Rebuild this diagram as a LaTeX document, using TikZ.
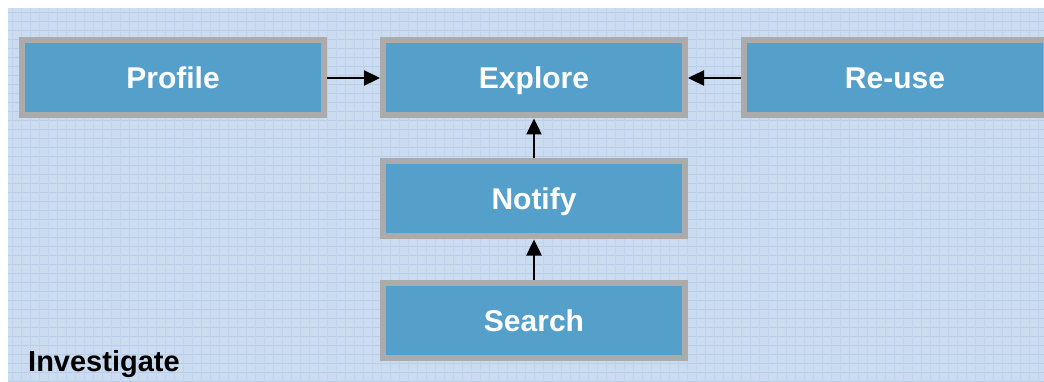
\documentclass[tikz,border=0pt]{standalone}
\usepackage{fontspec}
\setmainfont{Liberation Sans}
\usetikzlibrary{arrows.meta}
\definecolor{bgblue}{HTML}{CCDCF0}
\definecolor{gridblue}{HTML}{B8CDEA}
\definecolor{boxblue}{HTML}{559FCB}
\definecolor{boxgray}{HTML}{ABABAB}
\tikzset{
  stepbox/.style={draw=boxgray, line width=6pt, fill=boxblue, minimum width=302pt, minimum height=75pt,
    inner sep=0pt, text height=24pt, text depth=2pt, text=white, font=\fontsize{30}{36}\selectfont\bfseries},
  conn/.style={-{Triangle[length=16pt,width=15pt]}, line width=2.4pt, black}
}
\begin{document}
\begin{tikzpicture}[x=1pt,y=-1pt]
\useasboundingbox (0,0) rectangle (1044,382);
\begin{scope}
\clip (0,0) rectangle (1044,382);
\fill[bgblue] (8,8) rectangle (1044,382);
\foreach \y in {12,21,...,382} \draw[gridblue, line width=0.8pt] (8,\y) -- (1044,\y);
\foreach \x in {12,21,...,1044} \draw[gridblue!60!bgblue, line width=0.6pt] (\x,8) -- (\x,382);
\node[stepbox] (profile) at (173,78) {Profile};
\node[stepbox] (explore) at (534,78) {Explore};
\node[stepbox] (reuse) at (895,78) {Re-use};
\node[stepbox] (notify) at (534,199) {Notify};
\node[stepbox] (search) at (534,320) {Search};
\draw[conn] (profile) -- (explore);
\draw[conn] (reuse) -- (explore);
\draw[conn] (notify) -- (explore);
\draw[conn] (search) -- (notify);
\node[anchor=base west, inner sep=0pt, font=\fontsize{29}{35}\selectfont\bfseries] (inv) at (28,371) {Investigate};
\end{scope}
\end{tikzpicture}
\end{document}
